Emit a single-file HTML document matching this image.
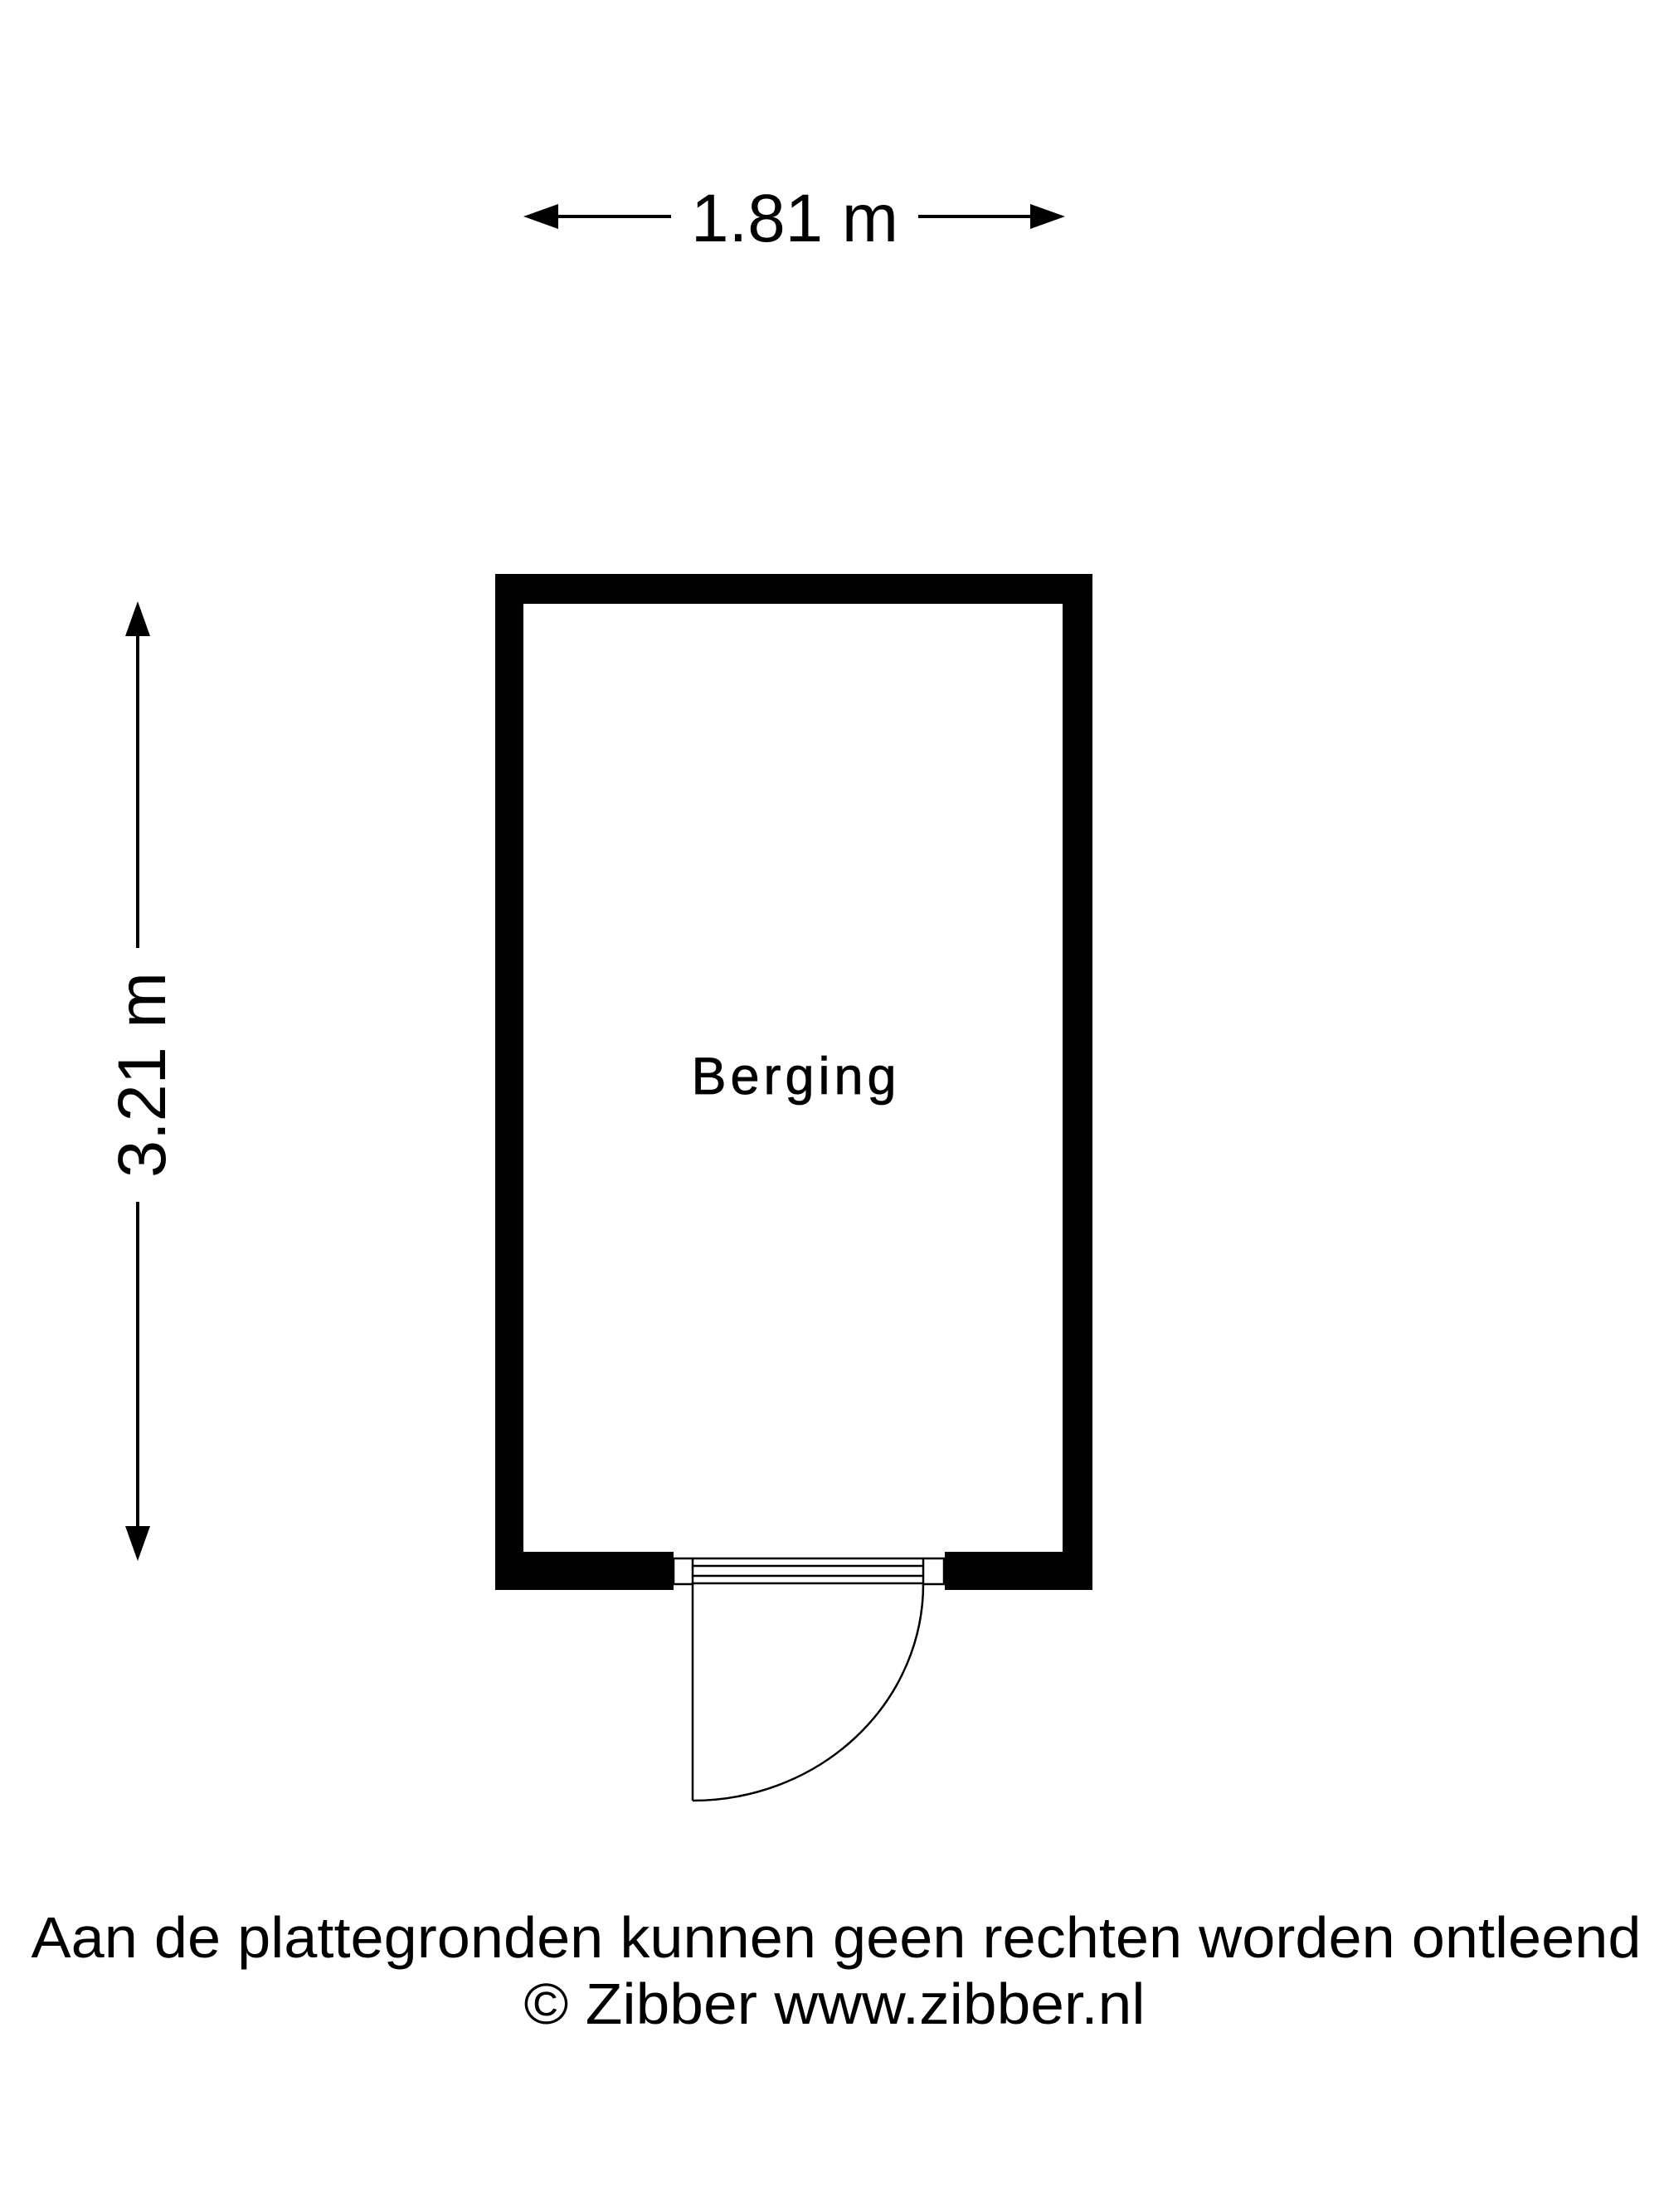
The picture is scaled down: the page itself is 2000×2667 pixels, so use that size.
<!DOCTYPE html>
<html><head><meta charset="utf-8"><style>html,body{margin:0;padding:0;background:#fff}svg{display:block}</style></head>
<body>
<svg width="2000" height="2667" viewBox="0 0 2000 2667" xmlns="http://www.w3.org/2000/svg" font-family="Liberation Sans, Arial, sans-serif">
<rect width="2000" height="2667" fill="#fff"/>
<g transform="translate(-3,0)">
<!-- top dimension -->
<line x1="660" y1="261" x2="812" y2="261" stroke="#000" stroke-width="4"/>
<line x1="1110" y1="261" x2="1262" y2="261" stroke="#000" stroke-width="4"/>
<polygon points="634,261 676,246 676,276" fill="#000"/>
<polygon points="1287,261 1245,246 1245,276" fill="#000"/>
<text x="961" y="291" font-size="82" text-anchor="middle" textLength="250" lengthAdjust="spacingAndGlyphs">1.81 m</text>
<!-- left dimension -->
<line x1="169" y1="750" x2="169" y2="1143" stroke="#000" stroke-width="4"/>
<line x1="169" y1="1449" x2="169" y2="1857" stroke="#000" stroke-width="4"/>
<polygon points="169,725 154,767 184,767" fill="#000"/>
<polygon points="169,1882 154,1840 184,1840" fill="#000"/>
<text transform="translate(202,1296) rotate(-90)" x="0" y="0" font-size="82" text-anchor="middle" textLength="248" lengthAdjust="spacingAndGlyphs">3.21 m</text>
<!-- walls -->
<path d="M600,692 H1320 V1917 H1142 V1871 H1284 V728 H634 V1871 H815 V1917 H600 Z" fill="#000"/>
<!-- door frame -->
<g stroke="#000" stroke-width="2.5" fill="none">
<rect x="815" y="1879" width="23" height="31"/>
<rect x="1116" y="1879" width="25" height="31"/>
<line x1="838" y1="1879" x2="1116" y2="1879"/>
<line x1="838" y1="1888" x2="1116" y2="1888"/>
<line x1="838" y1="1900" x2="1116" y2="1900"/>
<line x1="838" y1="1909" x2="1116" y2="1909"/>
<line x1="838" y1="1910" x2="838" y2="2171"/>
<path d="M838,2171 A278,261 0 0 0 1116,1910"/>
</g>
<text x="960" y="1319" font-size="63" text-anchor="middle" textLength="247" lengthAdjust="spacing" stroke="#000" stroke-width="0.8">Berging</text>
</g>
<text x="1008" y="2360" font-size="70" text-anchor="middle" textLength="1941" lengthAdjust="spacingAndGlyphs">Aan de plattegronden kunnen geen rechten worden ontleend</text>
<text x="1006" y="2440" font-size="70" text-anchor="middle" textLength="749" lengthAdjust="spacingAndGlyphs">© Zibber www.zibber.nl</text>
</svg>
</body></html>
